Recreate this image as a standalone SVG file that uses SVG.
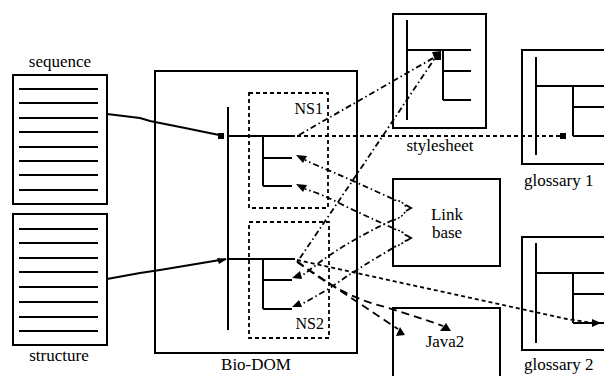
<svg xmlns="http://www.w3.org/2000/svg" width="604" height="376" viewBox="0 0 604 376">
<style>
.box{fill:none;stroke:#000;stroke-width:2}
.ln{fill:none;stroke:#000;stroke-width:2}
.doc{fill:none;stroke:#000;stroke-width:2}
.ns{fill:none;stroke:#000;stroke-width:1.8;stroke-dasharray:4 3}
text{font-family:'Liberation Serif','DejaVu Serif','Times New Roman',serif;fill:#000}
.lbl{font-size:17px}
.nsl{font-size:16px}
.dot{fill:none;stroke:#000;stroke-width:1.8;stroke-dasharray:4 3}
.dd{fill:none;stroke:#000;stroke-width:1.8;stroke-dasharray:6 3 1.5 3}
.dsh{fill:none;stroke:#000;stroke-width:1.8;stroke-dasharray:8 5}
.arc{fill:none;stroke:#000;stroke-width:1.5;stroke-dasharray:2 2}
.ah{fill:#000;stroke:none}
</style>
<rect width="604" height="376" fill="#fff"/>

<g id="sequence">
<rect class="box" x="13" y="75" width="94" height="129"/>
<path class="doc" d="M19,89H98M19,103H98M19,118H98M19,132H98M19,147H98M19,161H98M19,175H98M19,190H98"/>
<text class="lbl" font-family="Liberation Serif, serif" x="60" y="67" text-anchor="middle">sequence</text>
</g>

<g id="structure">
<rect class="box" x="13" y="214" width="94" height="131"/>
<path class="doc" d="M19,229H98M19,243H98M19,258H98M19,272H98M19,287H98M19,302H98M19,317H98M19,331H98"/>
<text class="lbl" font-family="Liberation Serif, serif" x="59" y="361" text-anchor="middle">structure</text>
</g>

<g id="biodom">
<rect class="box" x="155" y="71" width="202" height="282"/>
<path class="ln" d="M228,107V330M228,136H295M263,136V186M263,158H292M263,186H292M228,259H295M263,259V309M263,280H292M263,309H292"/>
<text class="lbl" font-family="Liberation Serif, serif" x="256" y="370" text-anchor="middle">Bio-DOM</text>
<g id="ns1">
<rect class="ns" x="249" y="93" width="79" height="115"/>
<text class="nsl" font-family="Liberation Serif, serif" x="323" y="114" text-anchor="end">NS1</text>
</g>
<g id="ns2">
<rect class="ns" x="249" y="222" width="80" height="116"/>
<text class="nsl" font-family="Liberation Serif, serif" x="324" y="329" text-anchor="end">NS2</text>
</g>
</g>

<g id="stylesheet">
<rect class="box" x="393" y="14" width="93" height="114"/>
<path class="ln" d="M407,20V120M407,50H471M443,50V100M443,71H471M443,100H471"/>
<text class="lbl" font-family="Liberation Serif, serif" x="440" y="151" text-anchor="middle">stylesheet</text>
</g>

<g id="glossary1">
<rect class="box" x="522" y="50" width="100" height="114"/>
<path class="ln" d="M536,57V155M536,86H610M573,86V136M573,107H610M573,136H610"/>
<text class="lbl" font-family="Liberation Serif, serif" x="524" y="186">glossary 1</text>
</g>

<g id="linkbase">
<rect class="box" x="393" y="179" width="107" height="87"/>
<text class="lbl" font-family="Liberation Serif, serif" x="447" y="220" text-anchor="middle">Link</text>
<text class="lbl" font-family="Liberation Serif, serif" x="447" y="238" text-anchor="middle">base</text>
</g>

<g id="glossary2">
<rect class="box" x="522" y="237" width="100" height="113"/>
<path class="ln" d="M536,243V343M536,273H610M573,273V323M573,294H610M573,323H610"/>
<text class="lbl" font-family="Liberation Serif, serif" x="524" y="370">glossary 2</text>
</g>

<g id="java2">
<rect class="box" x="393" y="308" width="107" height="80"/>
<text class="lbl" font-family="Liberation Serif, serif" x="445" y="347" text-anchor="middle">Java2</text>
</g>

<g id="connectors">
<path class="ln" stroke-width="1.8" d="M107,114L140,118L150,121L185,128L224,136"/>
<rect class="ah" x="218" y="133" width="6" height="6"/>
<path class="ln" stroke-width="1.8" d="M107,279L140,273L160,270L190,265L226,259"/>
<polygon class="ah" points="227,259 217,258 219,264"/>

<path class="dot" d="M297,136H562"/>
<rect class="ah" x="560" y="133" width="6" height="6"/>

<path class="dd" d="M299,135L435,57"/>
<path class="dd" d="M300,258Q360,170 435,58"/>
<polygon class="ah" points="432,52 441,51 441,60 435,60"/>

<path class="dd" d="M393,199Q360,184 335,173Q318,166 305,160"/>
<path class="dd" d="M393,228Q370,218 345,206Q322,194 305,189"/>
<path class="dd" d="M393,220Q350,240 320,262Q310,270 300,277"/>
<path class="dd" d="M393,248Q355,270 330,288Q315,297 300,305"/>
<polygon class="ah" points="296,155 307,156 303,163"/>
<polygon class="ah" points="296,184 307,185 303,192"/>
<polygon class="ah" points="292,278 300,271 302,279"/>
<polygon class="ah" points="292,307 299,300 302,307"/>

<path class="arc" d="M394,200Q403,201 406,207M394,220Q403,217 406,210"/>
<path class="ln" stroke-width="1.6" d="M406,205L411,208L406,211"/>
<path class="arc" d="M394,229Q403,231 406,236M394,247Q403,244 406,240"/>
<path class="ln" stroke-width="1.6" d="M406,235L411,238L406,241"/>

<path class="dot" d="M297,260L567,319L593,323"/>
<polygon class="ah" points="601,323 592,319 592,327"/>

<path class="dsh" d="M297,262L398,329"/>
<polygon class="ah" points="396,336 400,327 405,335"/>
<path class="dsh" d="M297,261Q340,296 385,307Q415,316 443,326"/>
<polygon class="ah" points="440,331 446,323 451,331"/>
</g>
</svg>
